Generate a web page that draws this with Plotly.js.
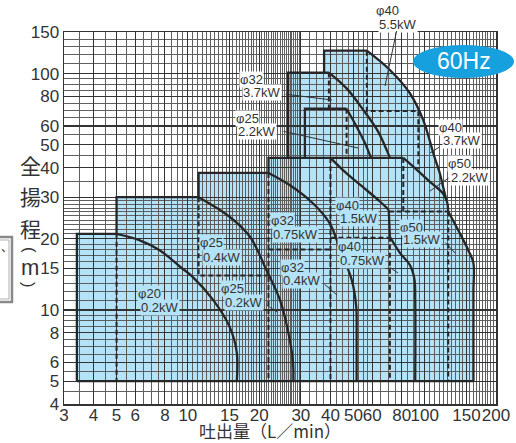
<!DOCTYPE html>
<html><head><meta charset="utf-8">
<script src="https://cdn.plot.ly/plotly-3.0.1.min.js"></script>
<style>html,body{margin:0;padding:0;background:#fff}#chart{width:516px;height:443px}</style>
</head><body><div id="chart"></div>
<script>
// ---------------- data ----------------
const xTickVals = [3,4,5,6,8,10,15,20,30,40,50,60,80,100,150,200];
const xTickText = ['3','4','5','6','8','10','15','20','30','40','50','60','80','100','150','200'];
const yTickVals = [4,5,6,8,10,15,20,30,40,50,60,80,100,150];
const yTickText = ['4','5','6','8','10','15','20','30','40','50','60','80','100','150'];

// pump ranges: straight edges and H-Q curves (flow L/min, head m)
const phi20_edgeX = [3.4,3.4,5],      phi20_edgeY = [5,21,21];
const phi20_curveX = [5,6.2,7.6,9.3,10.4,12.8,15,16.1,16.1];
const phi20_curveY = [21,19.8,17.9,15.2,13.9,11,8.5,6.6,5];

const phi25_edgeX = [5,5,11.1],       phi25_edgeY = [21,30,30];
const phi25_curveX = [11.1,15,18.3,21.5,24.5,27,27.8,27.9];
const phi25_curveY = [30,24.8,20.4,14.7,11,7.4,6,5];

const phi32_edgeX = [11.1,11.1,21.9], phi32_edgeY = [30,38,38];
const phi32_curveX = [21.9,27,33.8,39.8,44,49.2,51.4,51.6,51.6];
const phi32_curveY = [38,33.7,28.2,23.2,17.9,13.4,10.3,8,5];

const phi40_edgeX = [21.9,21.9,40],   phi40_edgeY = [38,44,44];
const phi40_15_curveX = [40,46.8,56.9,64.9,70.5];
const phi40_15_curveY = [44,37.8,32.1,28.7,26.5];
const phi40_linkX = [70.5,71.3],      phi40_linkY = [26.5,20.4];
const phi40_075_curveX = [71.3,78.7,86.6,90.5,91.2,91.2];
const phi40_075_curveY = [20.4,17.4,15.5,13.5,11,5];

const phi50_edgeX = [40,81.2],        phi50_edgeY = [44,44];
const phi50_22_curveX = [81.2,89.5,105,119.6,124.5,125.7];
const phi50_22_curveY = [44,40.4,34.9,31.1,28.5,26.1];
const phi50_15_curveX = [125.7,140.8,152.8,160.6,160.6,160.6];
const phi50_15_curveY = [26.1,21.1,17.9,15.8,12,5];

const phi32h_edgeX = [26.5,26.5,39.4], phi32h_edgeY = [44,101,101];
const phi32h_curveX = [39.4,46.8,55.1,63.5,69.4,71.3];
const phi32h_curveY = [101,86.6,70.1,57,47,44];

const phi25h_edgeX = [31.2,31.2,46.8], phi25h_edgeY = [44,71,71];
const phi25h_curveX = [46.8,51.6,56,58.7,59.5];
const phi25h_curveY = [71,59.6,50.7,45.3,44];

const phi40h_edgeX = [37.6,37.6,57],  phi40h_edgeY = [101,125,125];
const phi40h_curveX = [57,71.3,86.6,98.6,109.5,115.9,119.6,123.4];
const phi40h_curveY = [125,103.6,82.6,63.6,45,37.8,33.2,29.2];

const baseX = [3.4,160.6], baseY = [5,5];

// dashed boundaries between models
const dashX = [[5,5],[11.1,11.1,22],[21.9,21.9],[21.9,40],[40,40],[40,71.3],[71.3,71.3],
               [70.6,125.7],[81.2,81.2],[125.7,125.7],[39.4,39.4],[46.8,46.8],[57,57,94,94]];
const dashY = [[21,5],[30,14,14],[38,5],[18,18],[44,5],[20.2,20.2],[20.4,5],
               [26.1,26.1],[44,26.1],[26.1,5],[101,71],[71,44],[125,69.5,69.5,39.5]];

// labels
const labelBore  = ['φ40','φ32','φ25','φ40','φ50','φ40','φ50','φ32','φ40','φ32','φ25','φ25','φ20'];
const labelPower = ['5.5kW','3.7kW','2.2kW','3.7kW','2.2kW','1.5kW','1.5kW','0.75kW','0.75kW','0.4kW','0.4kW','0.2kW','0.2kW'];
const yTitleChars = ['全','揚','程','(','m',')'];
const xTitle = '吐出量（L／min）';
const freqText = '60Hz';

// ---------------- layout helpers (pixel positions) ----------------
const L = 64, T = 32, PW = 432, PH = 372;
const fx = p => (p - L) / PW;
const fy = p => (T + PH - p) / PH;
const FILL = '#b4e2f6', INK = '#262626', TXT = '#333333';
const NUM_FONT = 'Liberation Sans, Arial, sans-serif';
const CJK_FONT = 'Noto Sans CJK JP, sans-serif';

// label placement: [x1,y1,x2,y2,bg, leader(startx,starty,endx,endy)|null]
const labelPos = [
  [377,10,380,24,'#fff',[397,29,385,86]],
  [241,79,244,93,'#fff',[284,94,332,100]],
  [237,118,239,131,'#fff',[282,131,358,148]],
  [440,127,444,140,'#fff',[441,146,430,153]],
  [449,163,452,177,'#fff',[450,177,430,191]],
  [337,205,341,218,FILL,null],
  [401,227,404,240,FILL,[444,241,455,253]],
  [272,220,274,234,FILL,null],
  [339,247,341,260,FILL,[388,266,398,273]],
  [282,267,284,280,FILL,[323,283,337,295]],
  [201,243,204,257,FILL,null],
  [222,288,226,302,FILL,[265,304,277,312]],
  [139,293,142,307,FILL,null]
];

function seq(a, b, s) { const r = []; for (let v = a; v <= b + 1e-9; v += s) r.push(+v.toFixed(3)); return r; }
const xGrid = [].concat(seq(3,30,0.5), seq(32.5,60,2.5), seq(65,200,5));
const yGrid = [].concat(seq(4,10,0.5), seq(11,30,1), seq(35,100,5), seq(110,150,10));

// ---------------- traces ----------------
const traces = [];
function addLine(x, y, smooth, dash) {
  traces.push({x: x, y: y, type: 'scatter', mode: 'lines', hoverinfo: 'skip', showlegend: false,
    line: {color: INK, width: dash ? 2 : 2.3, shape: smooth ? 'spline' : 'linear', smoothing: 1,
           dash: dash ? '5px,3px' : 'solid'}});
}
const pumps = [
  {pieces: [[phi20_edgeX,phi20_edgeY,0],[phi20_curveX,phi20_curveY,1]], base: 5},
  {pieces: [[phi25_edgeX,phi25_edgeY,0],[phi25_curveX,phi25_curveY,1]], base: 5},
  {pieces: [[phi32_edgeX,phi32_edgeY,0],[phi32_curveX,phi32_curveY,1]], base: 5},
  {pieces: [[phi40_edgeX,phi40_edgeY,0],[phi40_15_curveX,phi40_15_curveY,1],[phi40_linkX,phi40_linkY,0],[phi40_075_curveX,phi40_075_curveY,1]], base: 5},
  {pieces: [[phi50_edgeX,phi50_edgeY,0],[phi50_22_curveX,phi50_22_curveY,1],[phi50_15_curveX,phi50_15_curveY,1]], base: 5},
  {pieces: [[phi32h_edgeX,phi32h_edgeY,0],[phi32h_curveX,phi32h_curveY,1]], base: 44},
  {pieces: [[phi25h_edgeX,phi25h_edgeY,0],[phi25h_curveX,phi25h_curveY,1]], base: 44},
  {pieces: [[phi40h_edgeX,phi40h_edgeY,0],[phi40h_curveX,phi40h_curveY,1]], base: 29.2}
];

// fills as shapes below the grid, built from the same arrays
const shapes = [];
pumps.forEach(p => {
  const xs = [], ys = [];
  p.pieces.forEach(pc => { pc[0].forEach((v,i) => { xs.push(v); ys.push(pc[1][i]); }); });
  const pts = [[xs[0], p.base]].concat(xs.map((v,i) => [v, ys[i]])).concat([[xs[xs.length-1], p.base]]);
  const path = 'M' + pts.map(q => q[0] + ',' + q[1]).join('L') + 'Z';
  shapes.push({type: 'path', xref: 'x', yref: 'y', path: path, fillcolor: FILL, line: {width: 0}, layer: 'below'});
});
dashX.forEach((x,i) => addLine(x, dashY[i], false, true));
pumps.forEach(p => p.pieces.forEach(pc => addLine(pc[0], pc[1], pc[2] === 1, false)));
addLine(baseX, baseY, false, false);

// 60Hz badge & left frame fragment
shapes.push({type: 'circle', xref: 'paper', yref: 'paper', x0: fx(413), x1: fx(514), y0: fy(78), y1: fy(45),
  fillcolor: '#17a0de', line: {width: 0}, layer: 'above'});
shapes.push({type: 'rect', xref: 'paper', yref: 'paper', x0: fx(-4), x1: fx(12), y0: fy(302), y1: fy(237),
  fillcolor: '#fff', line: {color: '#8a8a8a', width: 2.5}, layer: 'above'});
shapes.push({type: 'rect', xref: 'paper', yref: 'paper', x0: fx(-4), x1: fx(9), y0: fy(299), y1: fy(240),
  fillcolor: 'rgba(0,0,0,0)', line: {color: '#b0b0b0', width: 1}, layer: 'above'});

// ---------------- annotations ----------------
const ann = [];
labelBore.forEach((b, i) => {
  const p = labelPos[i];
  ann.push({xref:'paper', yref:'paper', x: fx(p[0]-2), y: fy(p[1]), xanchor:'left', yanchor:'middle', text: b,
    showarrow:false, bgcolor:p[4], borderpad:0, font:{family:NUM_FONT, size:13, color:TXT}});
  ann.push({xref:'paper', yref:'paper', x: fx(p[2]-2), y: fy(p[3]), xanchor:'left', yanchor:'middle', text: labelPower[i],
    showarrow:false, bgcolor:p[4], borderpad:0, font:{family:NUM_FONT, size:13, color:TXT}});
  if (p[5]) {
    const s = p[5];
    ann.push({xref:'paper', yref:'paper', x: fx(s[2]), y: fy(s[3]), ax: s[0]-s[2], ay: s[1]-s[3],
      text:' ', showarrow:true, arrowhead:0, arrowwidth:1, arrowcolor:TXT, standoff:0, startstandoff:0,
      font:{size:1}});
  }
});
// vertical y title: CJK chars stacked, parentheses turned to vertical form
const yTitlePy = [165,196,228,250,267,285];
yTitleChars.forEach((c, i) => {
  const isParen = (c === '(' || c === ')');
  ann.push({xref:'paper', yref:'paper', x: fx(isParen ? 29 : 30), y: fy(yTitlePy[i]), xanchor:'center', yanchor:'middle',
    text: c, showarrow:false, textangle: isParen ? 90 : 0, borderpad:0, borderwidth:0,
    font:{family: (c === 'm' || isParen) ? NUM_FONT : CJK_FONT, size: isParen ? 17 : (c === 'm' ? 22 : 21), color:TXT}});
});
ann.push({xref:'paper', yref:'paper', x: fx(270), y: fy(443), xanchor:'center', yanchor:'bottom', text: xTitle,
  showarrow:false, borderpad:0, borderwidth:0, font:{family:CJK_FONT, size:17, color:TXT}});
ann.push({xref:'paper', yref:'paper', x: fx(464), y: fy(61), xanchor:'center', yanchor:'middle', text: freqText,
  showarrow:false, font:{family:NUM_FONT, size:23, color:'#ffffff'}});
ann.push({xref:'paper', yref:'paper', x: fx(0.5), y: fy(247), xanchor:'left', yanchor:'middle', text: '、',
  showarrow:false, borderpad:0, borderwidth:0, font:{family:CJK_FONT, size:12, color:TXT}});

const axisCommon = {
  type: 'log', tickmode: 'array', ticks: '', tickangle: 0, showline: true, mirror: true, linecolor: '#333', linewidth: 1.5,
  showgrid: true, gridcolor: '#333', gridwidth: 1.2, zeroline: false,
  tickfont: {family: NUM_FONT, size: 17, color: TXT}
};
const layout = {
  width: 516, height: 443,
  margin: {l: L, r: 516 - L - PW, t: T, b: 443 - T - PH, pad: 0},
  paper_bgcolor: '#fff', plot_bgcolor: '#fff', showlegend: false,
  xaxis: Object.assign({}, axisCommon, {range: [Math.log10(3), Math.log10(200)], tickvals: xTickVals, ticktext: xTickText,
    ticklabelstandoff: -5,
    minor: {tickmode: 'array', tickvals: xGrid, showgrid: true, gridcolor: '#5e5e5e', gridwidth: 1, ticks: ''}}),
  yaxis: Object.assign({}, axisCommon, {range: [Math.log10(4), Math.log10(150)], tickvals: yTickVals, ticktext: yTickText,
    minor: {tickmode: 'array', tickvals: yGrid, showgrid: true, gridcolor: '#5e5e5e', gridwidth: 1, ticks: ''}}),
  shapes: shapes, annotations: ann
};
Plotly.newPlot('chart', traces, layout, {staticPlot: true, displayModeBar: false});
</script></body></html>
